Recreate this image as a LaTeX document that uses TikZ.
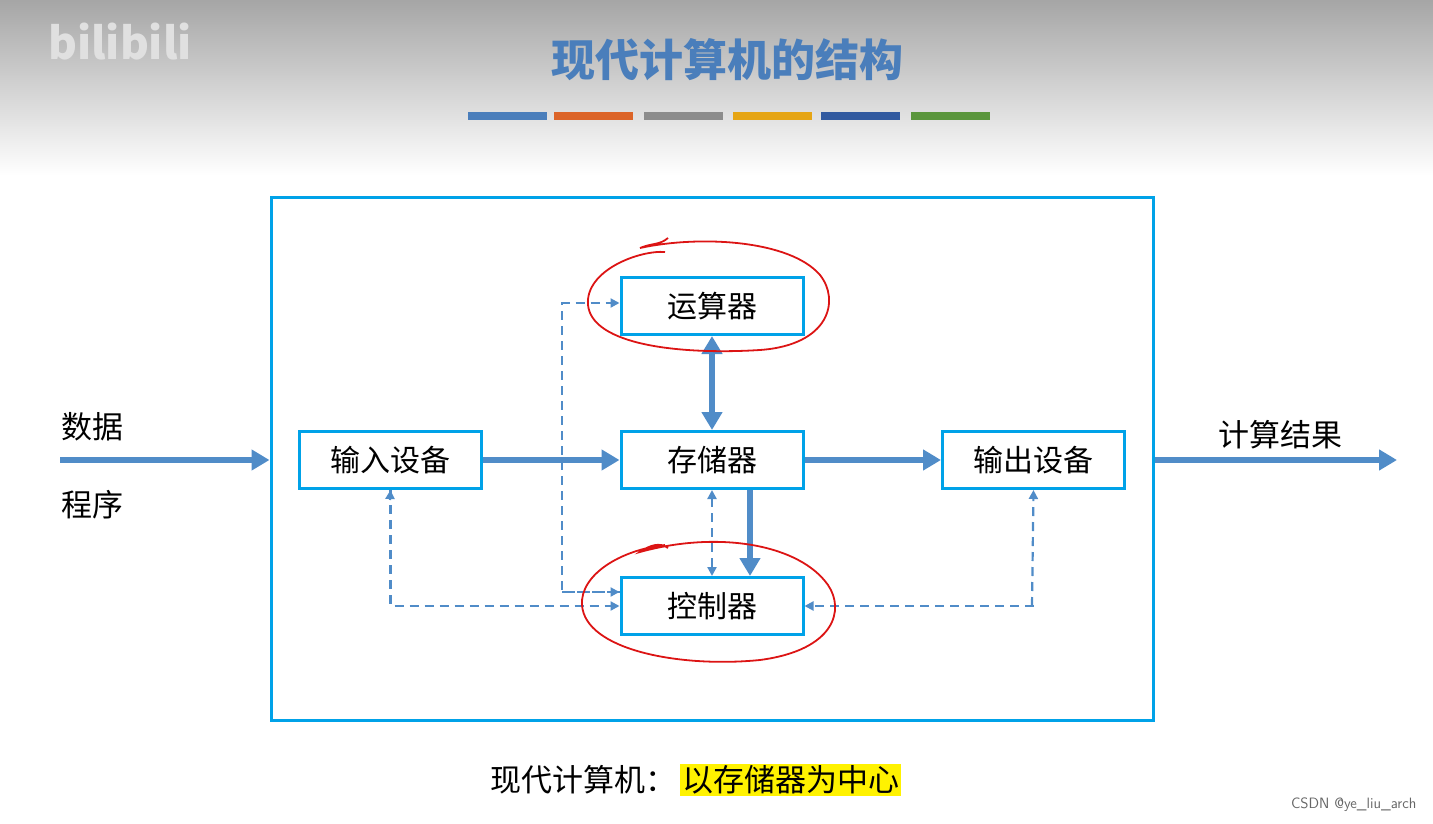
\documentclass[tikz,border=0pt]{standalone}
\usepackage{fontspec}
\setmainfont{Noto Sans CJK SC}
\usetikzlibrary{arrows.meta}
\definecolor{tblue}{RGB}{74,126,187}
\definecolor{boxc}{RGB}{0,162,232}
\definecolor{arr}{RGB}{80,140,200}
\definecolor{redc}{RGB}{220,20,20}
\definecolor{b1}{RGB}{74,126,187}
\definecolor{b2}{RGB}{220,100,40}
\definecolor{b3}{RGB}{140,140,140}
\definecolor{b4}{RGB}{230,165,20}
\definecolor{b5}{RGB}{50,90,160}
\definecolor{b6}{RGB}{90,150,60}
\tikzset{
 box/.style={draw=boxc,line width=3pt,minimum width=182pt,minimum height=57pt,inner sep=0pt,font=\fontsize{30}{32}\selectfont},
 thick arrow/.style={draw=arr,line width=6pt,-{Triangle[length=18pt,width=20pt]}},
 thick dbl/.style={draw=arr,line width=6pt,{Triangle[length=18pt,width=20pt]}-{Triangle[length=18pt,width=20pt]}},
 dash arrow/.style={draw=arr,line width=2.2pt,dash pattern=on 9pt off 6pt,-{Triangle[length=9pt,width=9pt]}},
 dash dbl/.style={draw=arr,line width=2.2pt,dash pattern=on 9pt off 6pt,{Triangle[length=9pt,width=9pt]}-{Triangle[length=9pt,width=9pt]}},
 lbl/.style={font=\fontsize{31}{33}\selectfont},
 ring/.style={draw=redc,line width=1.8pt}
}
\begin{document}
\begin{tikzpicture}[x=1pt,y=-1pt]
\useasboundingbox (0,0) rectangle (1433,824);
\shade[top color=black!35,bottom color=white] (0,0) rectangle (1433,175);
\node[text=black!12,font=\bfseries\fontsize{44}{44}\selectfont] (logo) at (120,42) {bilibili};
\node[text=tblue,font=\bfseries\fontsize{44}{46}\selectfont] (title) at (727,60) {现代计算机的结构};
\foreach \a/\c in {468/b1,554/b2,644/b3,733/b4,821/b5,911/b6}{
  \fill[\c] (\a,112) rectangle ++(79,8);
}
\node[draw=boxc,line width=3pt,minimum width=882pt,minimum height=523pt,inner sep=0pt] (outer) at (712,458.5) {};
\node[box] (alu) at (712,306) {运算器};
\node[box] (in) at (390.5,460) {输入设备};
\node[box] (mem) at (712,460) {存储器};
\node[box] (out) at (1033.5,460) {输出设备};
\node[box] (ctl) at (712,606) {控制器};
\coordinate (dstart) at (60,460);
\coordinate (rend) at (1397,460);
\node[lbl] (data) at (92,427) {数据};
\node[lbl] (prog) at (92,505) {程序};
\node[lbl] (res) at (1280,435) {计算结果};
\draw[thick arrow] (dstart) -- (outer.west |- dstart);
\draw[thick arrow] (in.east) -- (mem.west);
\draw[thick arrow] (mem.east) -- (out.west);
\draw[thick arrow] (outer.east |- rend) -- (rend);
\draw[thick dbl] (alu.south) -- (mem.north);
\draw[thick arrow] ([xshift=38pt]mem.south) -- ([xshift=38pt]ctl.north);
\draw[dash dbl] (mem.south) -- (ctl.north);
\draw[dash arrow] (ctl.west |- 0,592) -| (562,303) -- (alu.west |- 0,303);
\draw[dash arrow] (562,592) -- (ctl.west |- 0,592);
\draw[dash arrow] (in.south) |- (ctl.west |- 0,606);
\draw[draw=arr,line width=2.2pt,-{Triangle[length=9pt,width=9pt]}] (390,500) -- (in.south);
\draw[dash arrow] (out.south |- 0,606) -- (ctl.east);
\draw[draw=arr,line width=2.2pt,dash pattern=on 9pt off 6pt,-{Triangle[length=9pt,width=9pt]}] (1032,606) -- (out.south);
\draw[ring] (665,252) .. controls (640,250) and (585,270) .. (588,305) .. controls (592,345) and (680,355) .. (760,350) .. controls (830,345) and (840,300) .. (820,275) .. controls (790,240) and (700,235) .. (640,248) .. controls (652,243) and (660,245) .. (668,238);
\draw[ring] (665,545) .. controls (620,550) and (580,575) .. (582,605) .. controls (585,650) and (680,668) .. (760,660) .. controls (835,650) and (845,610) .. (828,585) .. controls (800,545) and (720,530) .. (640,552) .. controls (650,545) and (660,542) .. (668,548);
\node[font=\fontsize{31}{33}\selectfont,anchor=east] (bot1) at (680,780) {现代计算机：};
\node[fill=yellow,font=\fontsize{31}{33}\selectfont,anchor=west,inner sep=2pt] (bot2) at (680,780) {以存储器为中心};
\node[text=black!60,font=\fontsize{15}{16}\selectfont\sffamily,anchor=east] (csdn) at (1420,805) {CSDN @ye\_liu\_arch};
\end{tikzpicture}
\end{document}
